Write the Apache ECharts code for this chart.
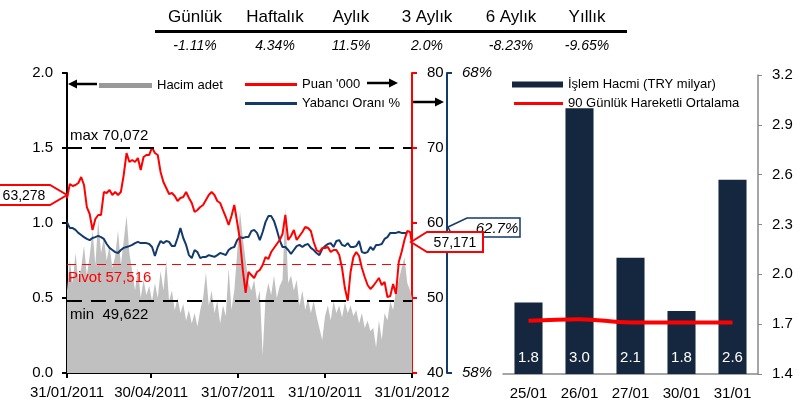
<!DOCTYPE html>
<html><head><meta charset="utf-8">
<script src="https://cdn.jsdelivr.net/npm/echarts@6/dist/echarts.min.js"></script>
<style>html,body{margin:0;padding:0;background:#fff}#c{width:807px;height:406px}</style>
</head><body><div id="c"></div>
<script>
const dates = [
'2011-01-31','2011-02-03','2011-02-06','2011-02-09','2011-02-12','2011-02-15','2011-02-18','2011-02-21','2011-02-24','2011-02-27',
'2011-03-02','2011-03-05','2011-03-08','2011-03-11','2011-03-14','2011-03-17','2011-03-20','2011-03-23','2011-03-26','2011-03-29',
'2011-04-01','2011-04-04','2011-04-07','2011-04-10','2011-04-13','2011-04-16','2011-04-19','2011-04-22','2011-04-25','2011-04-28',
'2011-05-01','2011-05-04','2011-05-07','2011-05-10','2011-05-13','2011-05-16','2011-05-19','2011-05-22','2011-05-25','2011-05-28',
'2011-05-31','2011-06-03','2011-06-06','2011-06-09','2011-06-12','2011-06-15','2011-06-18','2011-06-21','2011-06-24','2011-06-27',
'2011-06-30','2011-07-03','2011-07-06','2011-07-09','2011-07-12','2011-07-15','2011-07-18','2011-07-21','2011-07-24','2011-07-27',
'2011-07-30','2011-08-02','2011-08-05','2011-08-08','2011-08-11','2011-08-14','2011-08-17','2011-08-20','2011-08-23','2011-08-26',
'2011-08-29','2011-09-01','2011-09-04','2011-09-07','2011-09-10','2011-09-13','2011-09-16','2011-09-19','2011-09-22','2011-09-25',
'2011-09-28','2011-10-01','2011-10-04','2011-10-07','2011-10-10','2011-10-13','2011-10-16','2011-10-19','2011-10-22','2011-10-25',
'2011-10-28','2011-10-31','2011-11-03','2011-11-06','2011-11-09','2011-11-12','2011-11-15','2011-11-18','2011-11-21','2011-11-24',
'2011-11-27','2011-11-30','2011-12-03','2011-12-06','2011-12-09','2011-12-12','2011-12-15','2011-12-18','2011-12-21','2011-12-24',
'2011-12-27','2011-12-30','2012-01-02','2012-01-05','2012-01-08','2012-01-11','2012-01-14','2012-01-17','2012-01-20','2012-01-23',
'2012-01-26','2012-01-29','2012-01-31'];

const hacimAdet = [
0.55,0.75,0.6,0.8,0.62,0.7,0.85,0.65,0.78,0.95,
0.72,1.02,0.8,0.9,0.75,0.85,0.7,0.78,0.95,0.72,
0.88,1.05,0.8,0.68,0.55,0.7,0.5,0.62,0.52,0.58,
0.48,0.6,0.5,0.68,0.55,0.75,0.48,0.55,0.42,0.5,
0.4,0.46,0.35,0.42,0.33,0.4,0.31,0.42,0.5,0.67,
0.45,0.55,0.4,0.48,0.33,0.45,0.38,0.7,0.42,0.55,
0.8,1.08,0.9,0.75,0.6,0.55,0.62,0.48,0.55,0.12,
0.5,0.6,0.52,0.65,0.5,0.58,0.62,1.1,0.6,0.65,
0.55,0.62,0.45,0.55,0.42,0.5,0.4,0.48,0.38,0.3,
0.22,0.38,0.45,0.35,0.48,0.4,0.45,0.37,0.47,0.4,
0.45,0.38,0.42,0.33,0.4,0.3,0.35,0.28,0.3,0.17,
0.35,0.22,0.4,0.35,0.48,0.42,0.55,0.62,0.7,0.77,
0.6,0.55,0.5];

const puan = [
63.28,65.2,64.93,65.07,65.33,66.13,65.07,62.13,61.2,59.07,
60.53,61.07,61.07,64.13,64.0,64.4,63.73,64.13,63.73,64.13,
66.4,69.33,68.13,68.4,68.13,68.67,67.07,68.8,69.07,69.07,
70.07,69.33,69.07,66.8,65.47,64.67,63.87,64.0,63.6,62.93,
63.33,63.47,64.13,63.33,62.67,61.47,61.73,62.13,62.4,63.07,
63.73,64.13,63.73,62.93,62.67,61.73,60.8,59.73,60.93,62.4,
60.13,57.73,53.73,50.67,53.47,53.07,52.67,53.47,53.73,54.4,
55.47,55.2,56.13,56.67,57.2,57.73,58.53,61.07,57.73,58.27,
59.07,57.73,58.27,58.8,59.47,59.33,58.93,57.47,56.4,56.13,
56.67,56.67,56.8,56.13,56.4,56.4,55.73,54.0,51.33,49.62,
53.47,55.47,56.13,55.6,54.0,52.8,51.73,51.2,51.6,52.13,
52.67,51.73,52.13,50.13,50.27,51.87,50.53,54.8,56.13,57.73,
58.93,58.8,57.17];

const yabanciOrani = [
63.03,62.83,62.83,62.77,62.67,62.6,62.53,62.47,62.43,62.5,
62.53,62.57,62.53,62.47,62.3,62.17,62.1,62.03,62.0,62.1,
62.17,62.2,62.23,62.27,62.33,62.37,62.33,62.33,62.33,62.3,
62.2,61.9,62.2,62.4,62.33,62.4,62.37,62.23,62.23,62.5,
62.83,62.5,62.27,61.93,61.83,62.1,62.03,61.83,61.87,61.87,
61.93,61.9,61.87,61.93,62.0,61.97,61.93,62.1,62.17,62.2,
62.43,62.53,62.5,62.53,62.53,62.73,62.77,62.67,62.43,62.7,
63.03,63.23,63.23,63.07,62.77,62.43,62.2,62.2,62.1,61.97,
62.1,62.23,62.27,62.2,62.27,62.3,62.17,62.1,62.0,61.93,
62.13,62.23,62.3,62.33,62.2,62.4,62.43,62.27,62.23,62.33,
62.2,62.2,62.23,62.4,62.03,62.0,62.03,62.2,62.1,62.27,
62.27,62.3,62.47,62.53,62.67,62.67,62.67,62.7,62.67,62.67,
62.67,null,null];

const xTickDates = ['2011-01-31','2011-04-30','2011-07-31','2011-10-31','2012-01-31'];

const gunler = ['25/01','26/01','27/01','30/01','31/01'];
const islemHacmi = [1.83,3.0,2.1,1.78,2.57];
const islemEtiket = ['1.8','3.0','2.1','1.8','2.6'];
const hareketliOrt = [1.72,1.73,1.71,1.71,1.71];

const perfBasliklar = ['Günlük','Haftalık','Aylık','3 Aylık','6 Aylık','Yıllık'];
const perfDegerler = ['-1.11%','4.34%','11.5%','2.0%','-8.23%','-9.65%'];

const maxText = 'max 70,072', maxVal = 70.072;
const minText = 'min  49,622', minVal = 49.622;
const pivotText = 'Pivot 57,516', pivotLineVal = 54.5;
const firstText = '63,278', lastText = '57,171', lastYabText = '62.7%';

const FONT = '"Liberation Sans", Arial, sans-serif';
const tp = s => echarts.time.parse(s).getTime();
const pair = arr => dates.map((d, i) => [tp(d), arr[i]]);

const chart = echarts.init(document.getElementById('c'), null, {renderer: 'canvas'});

const colX = [195, 275, 351, 427, 511, 587];
const graphics = [];
perfBasliklar.forEach((t, i) => graphics.push({type: 'text', x: colX[i], y: 17,
  style: {text: t, textAlign: 'center', textVerticalAlign: 'middle', align: 'center', verticalAlign: 'middle',
  font: '17px ' + FONT, fill: '#000'}}));
perfDegerler.forEach((t, i) => graphics.push({type: 'text', x: colX[i], y: 46,
  style: {text: t, textAlign: 'center', textVerticalAlign: 'middle', align: 'center', verticalAlign: 'middle',
  font: 'italic 14px ' + FONT, fill: '#000'}}));
graphics.push({type: 'rect', shape: {x: 155, y: 30, width: 472, height: 3}, style: {fill: '#000'}});

// legend arrows
function arrow(x1, y, x2) {
  const dir = x2 > x1 ? 1 : -1;
  graphics.push({type: 'line', shape: {x1: x1, y1: y, x2: x2 - dir * 6, y2: y}, style: {stroke: '#000', lineWidth: 2.5}});
  graphics.push({type: 'polygon', shape: {points: [[x2, y], [x2 - dir * 9, y - 4.5], [x2 - dir * 9, y + 4.5]]}, style: {fill: '#000'}});
}
arrow(97, 84, 68);
arrow(367, 83, 398);
arrow(412, 102, 444);

// callouts
graphics.push({type: 'polygon', z: 50, shape: {points: [[-3, 185], [50, 185], [67, 195], [50, 205], [-3, 205]]},
  style: {fill: '#fff', stroke: '#ff0000', lineWidth: 2}});
graphics.push({type: 'text', z: 51, x: 24, y: 196, style: {text: firstText, textAlign: 'center', textVerticalAlign: 'middle',
  align: 'center', verticalAlign: 'middle', font: '14px ' + FONT, fill: '#000'}});
graphics.push({type: 'polygon', z: 50, shape: {points: [[448, 227], [467, 218], [520, 218], [520, 237], [453, 237]]},
  style: {fill: '#fff', stroke: '#123a6b', lineWidth: 1.5}});
graphics.push({type: 'text', z: 51, x: 497, y: 229, style: {text: lastYabText, textAlign: 'center', textVerticalAlign: 'middle',
  align: 'center', verticalAlign: 'middle', font: 'italic 15px ' + FONT, fill: '#000'}});
graphics.push({type: 'polygon', z: 52, shape: {points: [[411, 242], [427, 232], [483, 232], [483, 252], [427, 252]]},
  style: {fill: '#fff', stroke: '#ff0000', lineWidth: 2}});
graphics.push({type: 'text', z: 53, x: 455, y: 243, style: {text: lastText, textAlign: 'center', textVerticalAlign: 'middle',
  align: 'center', verticalAlign: 'middle', font: '14px ' + FONT, fill: '#000'}});

const axisLbl = {color: '#000', fontSize: 15, fontFamily: FONT};
const legTxt = {fontSize: 13, color: '#000', lineHeight: 15};

const option = {
  animation: false,
  backgroundColor: '#fff',
  textStyle: {fontFamily: FONT},
  grid: [
    {left: 67, right: 395, top: 73, bottom: 33},
    {left: 503, right: 49, top: 75, bottom: 32}
  ],
  legend: [
    {data: [{name: 'Hacim adet', icon: 'rect'}], left: 99, top: 78, padding: 0, itemWidth: 53, itemHeight: 5, itemGap: 5,
     textStyle: legTxt},
    {data: [{name: "Puan '000", icon: 'rect'}, {name: 'Yabancı Oranı %', icon: 'rect'}], orient: 'vertical', padding: 0,
     left: 245, top: 77, itemWidth: 52, itemHeight: 3, itemGap: 4, textStyle: legTxt},
    {data: [{name: 'İşlem Hacmi (TRY milyar)', icon: 'rect'}], padding: 0,
     left: 512, top: 77, itemWidth: 51, itemHeight: 6, textStyle: legTxt},
    {data: [{name: '90 Günlük Hareketli Ortalama', icon: 'rect'}], padding: 0,
     left: 514, top: 96, itemWidth: 49, itemHeight: 3, textStyle: legTxt}
  ],
  xAxis: [
    {type: 'value', gridIndex: 0, min: tp(dates[0]), max: tp(dates[dates.length - 1]),
     axisLine: {lineStyle: {color: '#000', width: 2}},
     axisTick: {show: true, length: 5, lineStyle: {color: '#000', width: 2}, customValues: xTickDates.map(tp)},
     axisLabel: Object.assign({}, axisLbl, {margin: 12, customValues: xTickDates.map(tp),
       formatter: v => echarts.time.format(v, '{dd}/{MM}/{yyyy}', false)}),
     splitLine: {show: false}},
    {type: 'category', gridIndex: 1, data: gunler, boundaryGap: true,
     axisLine: {lineStyle: {color: '#888', width: 1.5}},
     axisTick: {length: 4, lineStyle: {color: '#888'}},
     axisLabel: Object.assign({}, axisLbl, {margin: 12})}
  ],
  yAxis: [
    {type: 'value', gridIndex: 0, min: 0, max: 2, interval: 0.5, position: 'left',
     axisLine: {show: true, lineStyle: {color: '#000', width: 2}},
     axisTick: {show: true, length: 5, lineStyle: {color: '#000', width: 2}},
     axisLabel: Object.assign({}, axisLbl, {margin: 14, formatter: v => v.toFixed(1)}),
     splitLine: {show: false}},
    {type: 'value', gridIndex: 0, min: 40, max: 80, interval: 10, position: 'right',
     axisLine: {show: true, lineStyle: {color: '#ff0000', width: 2}},
     axisTick: {show: true, length: 5, lineStyle: {color: '#ff0000', width: 2}},
     axisLabel: Object.assign({}, axisLbl, {margin: 15}),
     splitLine: {show: false}},
    {type: 'value', gridIndex: 0, min: 58, max: 68, interval: 10, position: 'right', offset: 35,
     axisLine: {show: true, lineStyle: {color: '#123a6b', width: 2}},
     axisTick: {show: true, length: 5, lineStyle: {color: '#123a6b', width: 2}},
     axisLabel: Object.assign({}, axisLbl, {margin: 15, fontStyle: 'italic', formatter: v => v + '%'}),
     splitLine: {show: false}},
    {type: 'value', gridIndex: 1, min: 1.4, max: 3.2, interval: 0.3, position: 'right',
     axisLine: {show: true, lineStyle: {color: '#888', width: 1.5}},
     axisTick: {show: true, length: 4, lineStyle: {color: '#888'}},
     axisLabel: Object.assign({}, axisLbl, {margin: 14, formatter: v => v.toFixed(1)}),
     splitLine: {show: false}}
  ],
  series: [
    {name: 'Hacim adet', type: 'line', xAxisIndex: 0, yAxisIndex: 0, data: pair(hacimAdet), symbol: 'none',
     itemStyle: {color: '#999999'}, lineStyle: {width: 0}, areaStyle: {color: '#c0c0c0', opacity: 1}, z: 1},
    {name: 'Yabancı Oranı %', type: 'line', xAxisIndex: 0, yAxisIndex: 2, data: pair(yabanciOrani), symbol: 'none',
     itemStyle: {color: '#123a6b'}, lineStyle: {color: '#123a6b', width: 2}, z: 3},
    {name: "Puan '000", type: 'line', xAxisIndex: 0, yAxisIndex: 1, data: pair(puan), symbol: 'none',
     itemStyle: {color: '#ff0000'}, lineStyle: {color: '#ff0000', width: 2}, z: 4,
     markLine: {silent: true, symbol: ['none', 'none'], animation: false,
       data: [
         {yAxis: maxVal, lineStyle: {color: '#000', type: [15, 9], width: 2},
          label: {show: true, formatter: maxText, position: 'insideStartTop', distance: [3, 4], color: '#000', fontSize: 15}},
         {yAxis: minVal, lineStyle: {color: '#000', type: [15, 9], width: 2},
          label: {show: true, formatter: minText, position: 'insideStartBottom', distance: [3, 7], color: '#000', fontSize: 15}},
         {yAxis: pivotLineVal, lineStyle: {color: '#ff0000', type: [9, 6], width: 1},
          label: {show: true, formatter: pivotText, position: 'insideStartBottom', distance: [1, 6], color: '#ff0000', fontSize: 15}}
       ]}},
    {name: 'İşlem Hacmi (TRY milyar)', type: 'bar', xAxisIndex: 1, yAxisIndex: 3, data: islemHacmi,
     barCategoryGap: '45%', itemStyle: {color: '#14273f'}, z: 2,
     label: {show: true, position: 'insideBottom', distance: 9, color: '#fff', fontSize: 15,
       formatter: p => islemEtiket[p.dataIndex]}},
    {name: '90 Günlük Hareketli Ortalama', type: 'line', xAxisIndex: 1, yAxisIndex: 3, data: hareketliOrt,
     symbol: 'none', smooth: 0.4, itemStyle: {color: '#ff0000'}, lineStyle: {color: '#ff0000', width: 4}, z: 5}
  ],
  graphic: graphics
};
chart.setOption(option);
</script>
</body></html>
